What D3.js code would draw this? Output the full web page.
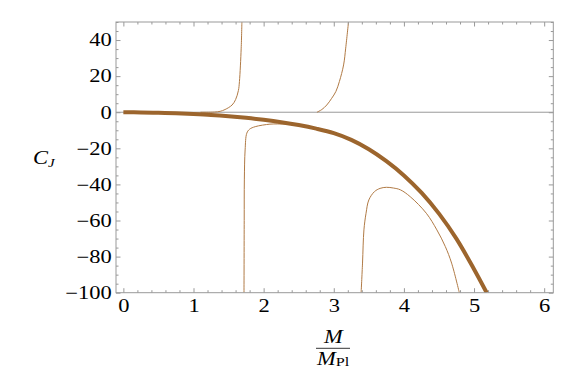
<!DOCTYPE html>
<html>
<head>
<meta charset="utf-8">
<script src="https://cdn.jsdelivr.net/npm/d3@7"></script>
<style>
  body { margin: 0; background: #fff; }
</style>
</head>
<body>
<div class="chart"></div>
<script>
// thick curve (main solution)
const mainX = [0, 0.25, 0.5, 0.75, 1, 1.25, 1.5, 1.75, 2, 2.25, 2.5, 2.75, 3, 3.25, 3.5, 3.75, 4, 4.25, 4.5, 4.75, 5, 5.18];
const mainY = [0, -0.1, -0.3, -0.6, -1.0, -1.5, -2.2, -3.1, -4.2, -5.5, -7.1, -9.1, -11.6, -15.3, -20.5, -27.1, -35.0, -44.6, -56.2, -70.2, -87, -100];

// thin branches
const b1X = [1.1, 1.3, 1.38, 1.45, 1.55, 1.6, 1.64, 1.655, 1.68, 1.69];
const b1Y = [0, 0.1, 0.5, 1.5, 4, 7, 12, 17, 35.5, 50];
const b2X = [1.72, 1.723, 1.725, 1.736, 1.76, 1.80, 1.88, 2.09, 2.2, 2.35, 2.5, 2.6];
const b2Y = [-100, -60, -37.5, -20.9, -11.6, -9.4, -8, -6.6, -6.5, -6.6, -7.3, -8.0];
const b3X = [2.76, 2.83, 2.90, 2.97, 3.03, 3.08, 3.14, 3.17, 3.21];
const b3Y = [0, 1.5, 4, 7.7, 11.5, 17, 26.2, 35.5, 50];
const b4X = [3.39, 3.41, 3.43, 3.46, 3.50, 3.58, 3.66, 3.75, 3.85, 3.95, 4.09, 4.32, 4.47, 4.59, 4.68, 4.79];
const b4Y = [-100, -83.6, -65.2, -56, -48.6, -44, -42.2, -41.6, -42, -43, -46.8, -56, -65.2, -74.4, -83.6, -100];

const xMajor = [0, 1, 2, 3, 4, 5, 6];
const yMajor = [-100, -80, -60, -40, -20, 0, 20, 40];

const w = 581, h = 376;
const pLeft = 116, pRight = 553.3, pTop = 22, pBottom = 292.7;
const textScale = 1.25;
const serif = '"Liberation Serif", "Times New Roman", Times, serif';

const svg = d3.select(".chart").append("svg")
    .attr("width", w)
    .attr("height", h);

const x = d3.scaleLinear().domain([-0.105, 6.13]).range([pLeft, pRight]);
const y = d3.scaleLinear().domain([-100, 50]).range([pBottom, pTop]);

const xMinor = d3.range(0, 6.11, 0.2).map(v => +v.toFixed(1)).filter(v => !xMajor.includes(v));
const yMinor = d3.range(-100, 51, 5).filter(v => !yMajor.includes(v));

svg.append("defs").append("clipPath").attr("id", "clip")
  .append("rect")
    .attr("x", pLeft).attr("y", pTop)
    .attr("width", pRight - pLeft).attr("height", pBottom - pTop);

// zero line
svg.append("line")
    .attr("x1", pLeft).attr("x2", pRight)
    .attr("y1", y(0)).attr("y2", y(0))
    .attr("stroke", "#999").attr("stroke-width", 1);

// curves
const line = d3.line()
    .x(d => x(d[0]))
    .y(d => y(d[1]))
    .curve(d3.curveCatmullRom.alpha(0.5));

const plot = svg.append("g").attr("clip-path", "url(#clip)");
const thin = [[b1X, b1Y], [b2X, b2Y], [b3X, b3Y], [b4X, b4Y]];
thin.forEach(([xs, ys]) => {
    plot.append("path")
        .datum(d3.zip(xs, ys))
        .attr("d", line)
        .attr("fill", "none")
        .attr("stroke", "#b07a45")
        .attr("stroke-width", 1);
});
plot.append("path")
    .datum(d3.zip(mainX, mainY))
    .attr("d", line)
    .attr("fill", "none")
    .attr("stroke", "#9c652d")
    .attr("stroke-width", 4);

// axes: ticks point inward
function axis(gen, tx, ty, values, size, labels, pad) {
    const a = gen.tickValues(values).tickSize(size).tickPadding(pad || 0);
    a.tickFormat(labels ? d3.format("d") : "");
    const g = svg.append("g")
        .attr("transform", `translate(${tx},${ty})`)
        .call(a)
        .attr("font-family", serif)
        .attr("font-size", 18);
    g.select(".domain").remove();
    g.selectAll(".tick line").attr("stroke", "#999");
    g.selectAll(".tick text")
        .attr("fill", "#000")
        .attr("transform", `scale(${textScale},1)`);
    return g;
}

axis(d3.axisBottom(x), 0, pBottom, xMajor, -4.5, true, 7);
axis(d3.axisBottom(x), 0, pBottom, xMinor, -2.5, false);
axis(d3.axisTop(x), 0, pTop, xMajor, -4.5, false);
axis(d3.axisTop(x), 0, pTop, xMinor, -2.5, false);
axis(d3.axisLeft(y), pLeft, 0, yMajor, -4.5, true, 3.4);
axis(d3.axisLeft(y), pLeft, 0, yMinor, -2.5, false);
axis(d3.axisRight(y), pRight, 0, yMajor, -4.5, false);
axis(d3.axisRight(y), pRight, 0, yMinor, -2.5, false);

// frame
svg.append("rect")
    .attr("x", pLeft).attr("y", pTop)
    .attr("width", pRight - pLeft).attr("height", pBottom - pTop)
    .attr("fill", "none")
    .attr("stroke", "#999").attr("stroke-width", 1);

// y label C_J
const yl = svg.append("text")
    .attr("font-family", serif).attr("font-size", 18)
    .attr("transform", `translate(33,164) scale(${textScale},1)`);
yl.append("tspan").attr("font-style", "italic").text("C");
yl.append("tspan").attr("font-style", "italic").attr("font-size", 12).attr("dy", 3).text("J");

// x label M / M_Pl
const cx = 333.3;
svg.append("text")
    .attr("font-family", serif).attr("font-size", 18)
    .attr("text-anchor", "middle")
    .attr("font-style", "italic")
    .attr("transform", `translate(${cx},342.7) scale(${textScale},1)`)
    .text("M");
svg.append("line")
    .attr("x1", 316).attr("x2", 350)
    .attr("y1", 348.3).attr("y2", 348.3)
    .attr("stroke", "#000").attr("stroke-width", 0.8);
const den = svg.append("text")
    .attr("font-family", serif).attr("font-size", 18)
    .attr("transform", `translate(317,364.5) scale(${textScale},1)`);
den.append("tspan").attr("font-style", "italic").text("M");
den.append("tspan").attr("font-size", 13).attr("dy", 1.5).text("Pl");
</script>
</body>
</html>
